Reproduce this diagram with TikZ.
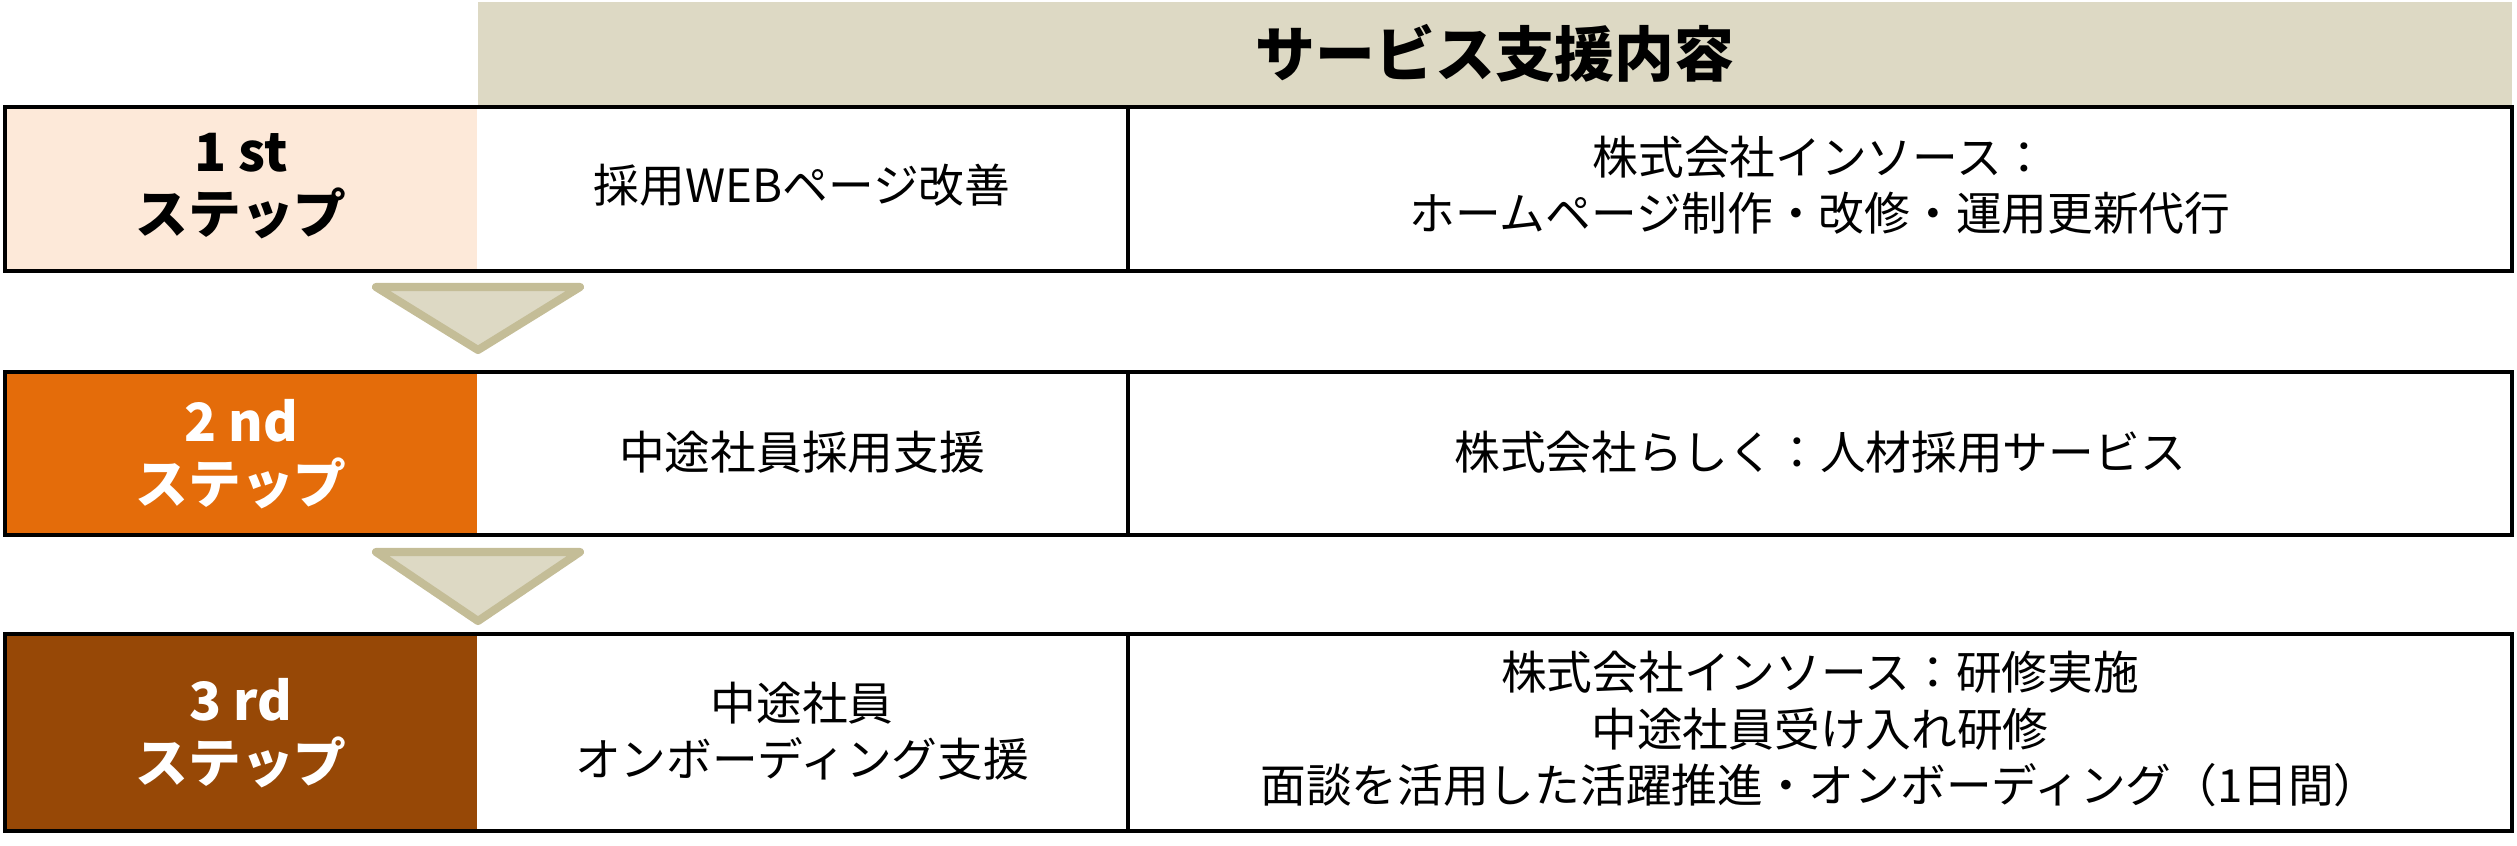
\documentclass[tikz,border=0pt]{standalone}
\usepackage{fontspec}
\setmainfont{Noto Sans CJK JP}
\definecolor{kopf}{HTML}{DDD9C4}
\definecolor{kopfrand}{HTML}{C4BD97}
\definecolor{stufeeins}{HTML}{FDE9D9}
\definecolor{stufezwei}{HTML}{E46C0A}
\definecolor{stufedrei}{HTML}{974806}
\begin{document}
\begin{tikzpicture}[
        x=0.01cm,
        y=0.01cm,
        rahmen/.style={line width=1.3pt},
        trenner/.style={line width=1pt},
        pfeil/.style={fill=kopf,draw=kopfrand,line width=2.3pt,line join=round},
        schritt/.style={font=\fontsize{15}{17.5}\selectfont\bfseries,align=center},
        inhalt/.style={font=\fontsize{13}{16}\selectfont,align=center}]

\useasboundingbox (0,0) rectangle (2517,845);
%Kopfzeile
\fill[kopf] (478,740) rectangle (2512,843);
\node[font=\fontsize{17}{20}\selectfont\bfseries] (kopf) at (1495,792) {サービス支援内容};
%Hintergrund Schritte
\fill[stufeeins] (5,574) rectangle (477,738);
\fill[stufezwei] (5,310) rectangle (477,473);
\fill[stufedrei] (5,14) rectangle (477,211);
%Rahmen
\draw[rahmen] (5,574) rectangle (2512,738);
\draw[rahmen] (5,310) rectangle (2512,473);
\draw[rahmen] (5,14) rectangle (2512,211);
%Trennlinien
\draw[trenner] (1128,574)--(1128,738);
\draw[trenner] (1128,310)--(1128,473);
\draw[trenner] (1128,14)--(1128,211);
%Pfeile
\draw[pfeil] (376,558)--(580,558)--(478,495)--cycle;
\draw[pfeil] (376,293)--(580,293)--(478,224)--cycle;
%Schritte
\node[schritt] (schritt1) at (241,659) {1 st\\ステップ};
\node[schritt,white] (schritt2) at (241,391) {2 nd\\ステップ};
\node[schritt,white] (schritt3) at (241,112) {3 rd\\ステップ};
%Massnahmen
\node[inhalt] (mass1) at (802,660) {採用WEBページ改善};
\node[inhalt] (mass2) at (802,393) {中途社員採用支援};
\node[inhalt] (mass3) at (802,114) {中途社員\\オンボーディング支援};
%Anbieter
\node[inhalt] (anb1) at (1820,660) {株式会社インソース：\\ホームページ制作・改修・運用更新代行};
\node[inhalt] (anb2) at (1820,393) {株式会社らしく：人材採用サービス};
\node[inhalt] (anb3) at (1820,116) {株式会社インソース：研修実施\\中途社員受け入れ研修\\面談を活用した活躍推進・オンボーディング（1日間）};

\end{tikzpicture}
\end{document}
